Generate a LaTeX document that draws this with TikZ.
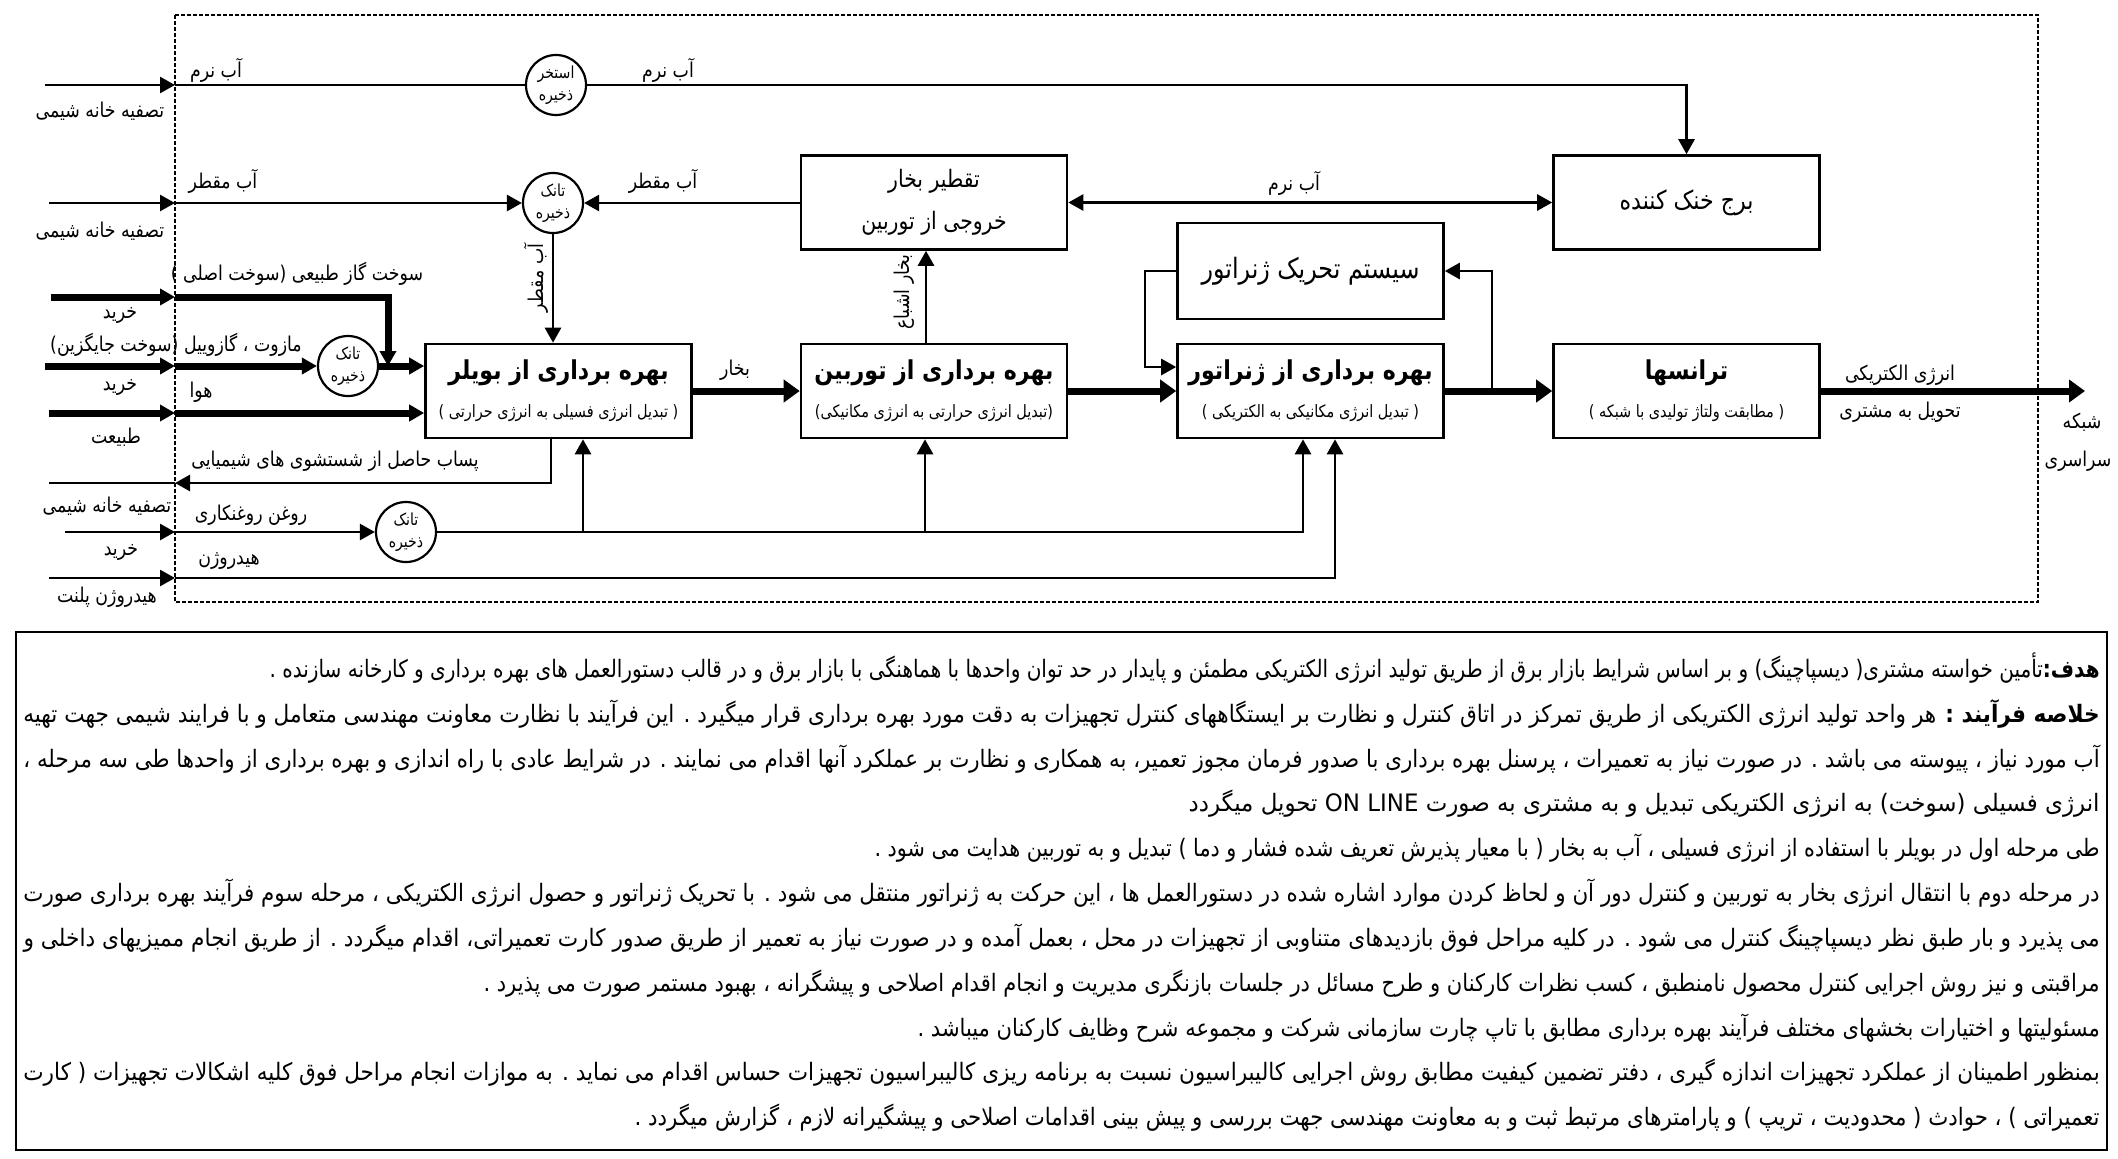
\documentclass[tikz,border=0pt]{standalone}
\usepackage{fontspec}
\usepackage{graphicx}
\usetikzlibrary{arrows.meta,calc}
\TeXXeTstate=1
\newfontfamily\fa[Script=Arabic,FakeStretch=0.85]{DejaVu Sans}
\newcommand{\pline}[2]{\resizebox{#1}{\height}{#2}}
\newcommand{\ttlf}{\bfseries\fontsize{13}{15}\selectfont}
\newcommand{\subf}{\fontsize{8.5}{10}\selectfont}
\begin{document}
\begin{tikzpicture}[x=0.5pt,y=-0.5pt,
  lbl/.style={font=\fa\fontsize{10.2}{12}\selectfont, inner sep=0pt},
  boxn/.style={draw, line width=1.3pt, fill=white, minimum width=133pt, minimum height=47pt, inner sep=0pt, align=center, font=\fa\fontsize{12}{14}\selectfont},
  circ/.style={circle, draw, line width=1.1pt, minimum size=30pt, inner sep=0pt, align=center, font=\fa\fontsize{8.3}{9}\selectfont},
  ln/.style={line width=1.35pt},
  thk/.style={line width=3.5pt},
  mainln/.style={line width=3.5pt},
  ar/.style={-{Triangle[length=7.5pt,width=8pt]}},
  arB/.style={-{Triangle[length=8pt,width=11pt]}},
  frame/.style={line width=0.7pt, dash pattern=on 2pt off 1pt},
  pl/.style={font=\fa\fontsize{12}{14}\selectfont, inner sep=0pt, anchor=base east}
]
\useasboundingbox (0,0) rectangle (2118,1158);
\fill[white] (0,0) rectangle (2118,1158);

% dashed frame
\draw[frame] (175,15) rectangle (2038,602);

% boxes
\node[boxn] (boil) at (558.5,391) {{\ttlf\beginR بهره برداری از بویلر\endR}\\[5pt]{\subf\beginR ( تبدیل انرژی فسیلی به انرژی حرارتی )\endR}};
\node[boxn] (turb) at (934,391) {{\ttlf\beginR بهره برداری از توربین\endR}\\[5pt]{\subf\beginR (تبدیل انرژی حرارتی به انرژی مکانیکی)\endR}};
\node[boxn] (gen) at (1310.5,391) {{\ttlf\beginR بهره برداری از ژنراتور\endR}\\[5pt]{\subf\beginR ( تبدیل انرژی مکانیکی به الکتریکی )\endR}};
\node[boxn] (trans) at (1686.5,391) {{\ttlf\beginR ترانسها\endR}\\[5pt]{\subf\beginR ( مطابقت ولتاژ تولیدی با شبکه )\endR}};
\node[boxn] (cond) at (934,202.5) {\beginR تقطیر بخار\endR\\[7pt]\beginR خروجی از توربین\endR};
\node[boxn, font=\fa\fontsize{13}{15}\selectfont] (cool) at (1686.5,202.5) {\beginR برج خنک کننده\endR};
\node[boxn, minimum height=48pt, font=\fa\fontsize{14}{16}\selectfont] (exc) at (1310.5,271) {\beginR سیستم تحریک ژنراتور\endR};

% circles
\node[circ] (c1) at (556,85) {\beginR استخر\endR\\[2pt]\beginR ذخیره\endR};
\node[circ] (c2) at (553,203) {\beginR تانک\endR\\[2pt]\beginR ذخیره\endR};
\node[circ] (c3) at (348,366) {\beginR تانک\endR\\[2pt]\beginR ذخیره\endR};
\node[circ] (c4) at (406,532) {\beginR تانک\endR\\[2pt]\beginR ذخیره\endR};

% coordinates
\coordinate (s1) at (45,85);   \coordinate (b1) at (175,85);
\coordinate (s2) at (49,203);  \coordinate (b2) at (175,203);
\coordinate (sg) at (51,297);  \coordinate (bg) at (175,297); \coordinate (jg) at (388,297);
\coordinate (sm) at (45,366);  \coordinate (bm) at (175,366);
\coordinate (sa) at (49,413);  \coordinate (ba) at (175,413);
\coordinate (sw) at (49,483);  \coordinate (bw) at (175,483);
\coordinate (so) at (65,532);  \coordinate (bo) at (175,532);
\coordinate (sh) at (49,578);  \coordinate (bh) at (175,578);
\coordinate (ob) at (583,532); \coordinate (ot) at (925,532); \coordinate (og) at (1303,532);
\coordinate (hg) at (1335,578);
\coordinate (fb) at (1492,391); \coordinate (ex1) at (1145,367);
\coordinate (outp) at (2085,391);

% row 1 soft water
\draw[ln,ar] (s1) -- (b1);
\draw[ln] (b1) -- (c1.west);
\draw[ln,ar] (c1.east) -| (cool.north);
% row 2 distilled water
\draw[ln,ar] (s2) -- (b2);
\draw[ln,ar] (b2) -- (c2.west);
\draw[ln,ar] (cond.west |- c2.east) -- (c2.east);
\draw[ln,{Triangle[length=7.5pt,width=8pt]}-{Triangle[length=7.5pt,width=8pt]}] (cond.east) -- (cool.west);
\draw[ln,ar] (c2.south) -- (c2.south |- boil.north);
\draw[ln,ar] ($(turb.north)+(-8,0)$) -- ($(cond.south)+(-8,0)$);

% main flow
\draw[mainln,arB] (boil.east) -- (turb.west);
\draw[mainln,arB] (turb.east) -- (gen.west);
\draw[mainln,arB] (gen.east) -- (trans.west);
\draw[mainln,arB] (trans.east) -- (outp);
\draw[ln,ar] (fb) |- (exc.east);
\draw[ln,ar] (exc.west) -| (ex1) -- (ex1 -| gen.west);

% fuels
\draw[thk,ar] (sg) -- (bg);
\draw[thk,ar] (bg) -- (jg) -- (jg |- c3.east);
\draw[thk,ar] (sm) -- (bm);
\draw[thk,ar] (bm) -- (c3.west);
\draw[thk,ar] (c3.east) -- (c3.east -| boil.west);
\draw[thk,ar] (sa) -- (ba);
\draw[thk,ar] (ba) -- (ba -| boil.west);

% waste water
\draw[ln,ar] ($(boil.south)+(-7.5,0)$) |- (bw);
\draw[ln] (bw) -- (sw);

% oil and hydrogen
\draw[ln,ar] (so) -- (bo);
\draw[ln,ar] (bo) -- (c4.west);
\draw[ln,ar] (c4.east) -- (og) -- (og |- gen.south);
\draw[ln,ar] (ob) -- (ob |- boil.south);
\draw[ln,ar] (ot) -- (ot |- turb.south);
\draw[ln,ar] (sh) -- (bh);
\draw[ln,ar] (bh) -- (hg) -- (hg |- gen.south);

% labels
\node[lbl] (l1) at (216,70) {\beginR آب نرم\endR};
\node[lbl] (l2) at (100,111) {\beginR تصفیه خانه شیمی\endR};
\node[lbl] (l3) at (668,70) {\beginR آب نرم\endR};
\node[lbl] (l4) at (223,181) {\beginR آب مقطر\endR};
\node[lbl] (l5) at (100,231) {\beginR تصفیه خانه شیمی\endR};
\node[lbl] (l6) at (663,181) {\beginR آب مقطر\endR};
\node[lbl] (l7) at (1294,183) {\beginR آب نرم\endR};
\node[lbl,rotate=90] (l8) at (536,278) {\beginR آب مقطر\endR};
\node[lbl,rotate=90] (l9) at (904,292) {\beginR بخار اشباع\endR};
\node[lbl] (l10) at (297,274) {\beginR سوخت گاز طبیعی (سوخت اصلی )\endR};
\node[lbl] (l11) at (120,316) {\beginR خرید\endR};
\node[lbl] (l12) at (176,345) {\beginR مازوت ، گازوییل (سوخت جایگزین)\endR};
\node[lbl] (l13) at (120,387) {\beginR خرید\endR};
\node[lbl] (l14) at (201,392) {\beginR هوا\endR};
\node[lbl] (l15) at (116,437) {\beginR طبیعت\endR};
\node[lbl] (l16) at (335,461) {\beginR پساب حاصل از شستشوی های شیمیایی\endR};
\node[lbl] (l17) at (107,506) {\beginR تصفیه خانه شیمی\endR};
\node[lbl] (l18) at (251,515) {\beginR روغن روغنکاری\endR};
\node[lbl] (l19) at (121,552) {\beginR خرید\endR};
\node[lbl] (l20) at (229,561) {\beginR هیدروژن\endR};
\node[lbl] (l21) at (107,597) {\beginR هیدروژن پلنت\endR};
\node[lbl] (l22) at (735,370) {\beginR بخار\endR};
\node[lbl] (l23) at (1900,375) {\beginR انرژی الکتریکی\endR};
\node[lbl] (l24) at (1900,412) {\beginR تحویل به مشتری\endR};
\node[lbl] (l25) at (2082,422) {\beginR شبکه\endR};
\node[lbl] (l26) at (2078,461) {\beginR سراسری\endR};

% text box
\draw[line width=1.4pt] (16,632) rectangle (2107,1150);
\node[pl] (t1) at (2100,677) {\pline{915pt}{\beginR{\bfseries هدف:}تأمین خواسته مشتری( دیسپاچینگ) و بر اساس شرایط بازار برق از طریق تولید انرژی الکتریکی مطمئن و پایدار در حد توان واحدها با هماهنگی با بازار برق و در قالب دستورالعمل های بهره برداری و کارخانه سازنده .\endR}};
\node[pl] (t2) at (2100,722) {\pline{1038pt}{\beginR{\bfseries خلاصه فرآیند :} هر واحد تولید انرژی الکتریکی از طریق تمرکز در اتاق کنترل و نظارت بر ایستگاههای کنترل تجهیزات به دقت مورد بهره برداری قرار میگیرد . این فرآیند با نظارت معاونت مهندسی متعامل و با فرایند شیمی جهت تهیه\endR}};
\node[pl] (t3) at (2100,767) {\pline{1038pt}{\beginR آب مورد نیاز ، پیوسته می باشد . در صورت نیاز به تعمیرات ، پرسنل بهره برداری با صدور فرمان مجوز تعمیر، به همکاری و نظارت بر عملکرد آنها اقدام می نمایند . در شرایط عادی با راه اندازی و بهره برداری از واحدها طی سه مرحله ،\endR}};
\node[pl] (t4) at (2100,811) {\pline{455.5pt}{\beginR انرژی فسیلی (سوخت) به انرژی الکتریکی تبدیل و به مشتری به صورت \beginL ON LINE\endL{} تحویل میگردد\endR}};
\node[pl] (t5) at (2100,856) {\pline{612.5pt}{\beginR طی مرحله اول در بویلر با استفاده از انرژی فسیلی ، آب به بخار ( با معیار پذیرش تعریف شده فشار و دما ) تبدیل و به توربین هدایت می شود .\endR}};
\node[pl] (t6) at (2100,901) {\pline{1038pt}{\beginR در مرحله دوم با انتقال انرژی بخار به توربین و کنترل دور آن و لحاظ کردن موارد اشاره شده در دستورالعمل ها ، این حرکت به ژنراتور منتقل می شود . با تحریک ژنراتور و حصول انرژی الکتریکی ، مرحله سوم فرآیند بهره برداری صورت\endR}};
\node[pl] (t7) at (2100,946) {\pline{1038pt}{\beginR می پذیرد و بار طبق نظر دیسپاچینگ کنترل می شود . در کلیه مراحل فوق بازدیدهای متناوبی از تجهیزات در محل ، بعمل آمده و در صورت نیاز به تعمیر از طریق صدور کارت تعمیراتی، اقدام میگردد . از طریق انجام ممیزیهای داخلی و\endR}};
\node[pl] (t8) at (2100,991) {\pline{808pt}{\beginR مراقبتی و نیز روش اجرایی کنترل محصول نامنطبق ، کسب نظرات کارکنان و طرح مسائل در جلسات بازنگری مدیریت و انجام اقدام اصلاحی و پیشگرانه ، بهبود مستمر صورت می پذیرد .\endR}};
\node[pl] (t9) at (2100,1036) {\pline{591pt}{\beginR مسئولیتها و اختیارات بخشهای مختلف فرآیند بهره برداری مطابق با تاپ چارت سازمانی شرکت و مجموعه شرح وظایف کارکنان میباشد .\endR}};
\node[pl] (t10) at (2100,1080) {\pline{1038pt}{\beginR بمنظور اطمینان از عملکرد تجهیزات اندازه گیری ، دفتر تضمین کیفیت مطابق روش اجرایی کالیبراسیون نسبت به برنامه ریزی کالیبراسیون تجهیزات حساس اقدام می نماید . به موازات انجام مراحل فوق کلیه اشکالات تجهیزات ( کارت\endR}};
\node[pl] (t11) at (2100,1125) {\pline{732.5pt}{\beginR تعمیراتی ) ، حوادث ( محدودیت ، تریپ ) و پارامترهای مرتبط ثبت و به معاونت مهندسی جهت بررسی و پیش بینی اقدامات اصلاحی و پیشگیرانه لازم ، گزارش میگردد .\endR}};
\end{tikzpicture}
\end{document}
